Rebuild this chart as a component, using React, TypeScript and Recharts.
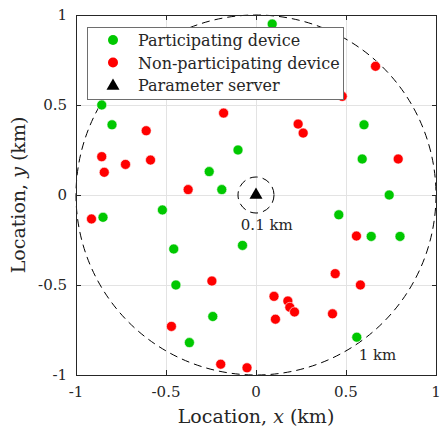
import React from "react";
import {
  ScatterChart,
  Scatter,
  XAxis,
  YAxis,
  ReferenceDot,
} from "recharts";

// device locations (km)
const participatingX = [
  -0.857, -0.8, -0.26, -0.1, -0.19, 0.09, 0.6, 0.59, 0.74, 0.46,
  0.64, 0.8, 0.56, -0.85, -0.52, -0.457, -0.075, -0.445, -0.24, -0.37,
];
const participatingY = [
  0.5, 0.39, 0.13, 0.25, 0.03, 0.95, 0.39, 0.2, 0.0, -0.11,
  -0.23, -0.23, -0.79, -0.124, -0.083, -0.3, -0.28, -0.5, -0.675, -0.82,
];
const nonParticipatingX = [
  -0.18, -0.61, -0.857, -0.843, -0.725, -0.586, -0.377, 0.664, 0.479, 0.234,
  0.262, 0.79, -0.914, -0.245, -0.47, -0.196, -0.05, 0.558, 0.44, 0.58,
  0.1, 0.177, 0.188, 0.214, 0.108, 0.425,
];
const nonParticipatingY = [
  0.455, 0.357, 0.213, 0.126, 0.17, 0.194, 0.03, 0.715, 0.548, 0.394,
  0.344, 0.2, -0.133, -0.478, -0.73, -0.94, -0.96, -0.228, -0.437, -0.5,
  -0.563, -0.589, -0.624, -0.65, -0.69, -0.66,
];
const serverX = [0];
const serverY = [0];

const axisTicks = [-1, -0.5, 0, 0.5, 1];
const tickLabels = ["-1", "-0.5", "0", "0.5", "1"];
const gridLines = [-0.5, 0, 0.5];
const circleRadii = [1, 0.1];
const circleLabels = ["1 km", "0.1 km"];
const circleLabelX = [0.675, 0.06];
const circleLabelY = [-0.889, -0.167];

const legendNames = ["Participating device", "Non-participating device", "Parameter server"];
const legendColors = ["#00c800", "#ff0000", "#000000"];
const legendMarkers = ["circle", "circle", "triangle"];

const FONT = "'DejaVu Serif', serif";
const GREEN = legendColors[0];
const RED = legendColors[1];
const FRAME = "#262626";
const GRID = "#e3e3e3";

const W = 442;
const H = 429;
const M_TOP = 15;
const M_RIGHT = 6;
const Y_W = 76;
const PLOT_W = 360;
const X_H = H - M_TOP - PLOT_W;
const PX_PER_KM = PLOT_W / 2;
const TICK_LEN = 5;

// plot-box helpers for the frame/grid layers (same box as the chart's plot area)
const px = (v: number) => Math.round(Y_W + ((v + 1) / 2) * PLOT_W);
const py = (v: number) => Math.round(M_TOP + ((1 - v) / 2) * PLOT_W);

const toPoints = (xs: number[], ys: number[]) =>
  xs.map((x, i) => ({ x, y: ys[i] }));

const participating = toPoints(participatingX, participatingY);
const nonParticipating = toPoints(nonParticipatingX, nonParticipatingY);
const server = toPoints(serverX, serverY);

const XTick = (props: any) => {
  const { x, y, payload } = props;
  const idx = axisTicks.indexOf(payload.value);
  return (
    <text
      x={x}
      y={y + 22}
      textAnchor="middle"
      fontFamily={FONT}
      fontSize={15}
      fill="#262626"
    >
      {tickLabels[idx]}
    </text>
  );
};

const YTick = (props: any) => {
  const { x, y, payload } = props;
  const idx = axisTicks.indexOf(payload.value);
  return (
    <text
      x={x - 9}
      y={y + 5}
      textAnchor="end"
      fontFamily={FONT}
      fontSize={15}
      fill="#262626"
    >
      {tickLabels[idx]}
    </text>
  );
};

const Dot = (props: any) => {
  const { cx, cy, fill } = props;
  return <circle cx={cx} cy={cy} r={5} fill={fill} stroke="#fff" strokeWidth={0.6} />;
};

const Triangle = (props: any) => {
  const { cx, cy } = props;
  const s = 13;
  const h = (s * Math.sqrt(3)) / 2;
  return (
    <polygon
      points={`${cx},${cy - (2 * h) / 3} ${cx - s / 2},${cy + h / 3} ${cx + s / 2},${cy + h / 3}`}
      fill="#000"
    />
  );
};

// thin filled bars instead of stroked lines, so they land on whole pixels
function GridLayer() {
  const top = py(1);
  const left = px(-1);
  return (
    <svg width={W} height={H} style={{ position: "absolute", left: 0, top: 0 }}>
      {gridLines.map((g) => (
        <rect key={`gx-${g}`} x={px(g)} y={top} width={1} height={PLOT_W} fill={GRID} />
      ))}
      {gridLines.map((g) => (
        <rect key={`gy-${g}`} x={left} y={py(g)} width={PLOT_W} height={1} fill={GRID} />
      ))}
    </svg>
  );
}

function FrameLayer() {
  const top = py(1);
  const bottom = py(-1);
  const left = px(-1);
  const right = px(1);
  return (
    <svg
      width={W}
      height={H}
      style={{ position: "absolute", left: 0, top: 0, pointerEvents: "none" }}
    >
      <rect x={left} y={top} width={PLOT_W + 1} height={1} fill={FRAME} />
      <rect x={left} y={bottom} width={PLOT_W + 1} height={1} fill={FRAME} />
      <rect x={left} y={top} width={1} height={PLOT_W + 1} fill={FRAME} />
      <rect x={right} y={top} width={1} height={PLOT_W + 1} fill={FRAME} />
      {axisTicks.map((t) => (
        <g key={`t-${t}`}>
          <rect x={px(t)} y={bottom - TICK_LEN} width={1} height={TICK_LEN} fill={FRAME} />
          <rect x={px(t)} y={top} width={1} height={TICK_LEN} fill={FRAME} />
          <rect x={left} y={py(t)} width={TICK_LEN} height={1} fill={FRAME} />
          <rect x={right - TICK_LEN + 1} y={py(t)} width={TICK_LEN} height={1} fill={FRAME} />
        </g>
      ))}
    </svg>
  );
}

function LegendBox() {
  return (
    <svg
      width={257}
      height={73}
      style={{ position: "absolute", left: 87, top: 27, display: "block" }}
    >
      <rect x={0.5} y={0.5} width={256} height={72} fill="#fff" stroke="#6e6e6e" />
      {legendNames.map((name, i) => {
        const cy = 13 + i * 22.5;
        return (
          <g key={name}>
            {legendMarkers[i] === "triangle" ? (
              <Triangle cx={26} cy={cy + 1} />
            ) : (
              <circle cx={26} cy={cy} r={5} fill={legendColors[i]} />
            )}
            <text x={51} y={cy + 6} fontFamily={FONT} fontSize={16} fill="#262626">
              {name}
            </text>
          </g>
        );
      })}
    </svg>
  );
}

export default function App() {
  return (
    <div style={{ position: "absolute", left: 0, top: 0, width: W, height: H, background: "#fff" }}>
      <GridLayer />
      <div style={{ position: "absolute", left: 0, top: 0 }}>
        <ScatterChart
          width={W}
          height={H}
          margin={{ top: M_TOP, right: M_RIGHT, bottom: 0, left: 0 }}
        >
          <XAxis
            type="number"
            dataKey="x"
            domain={[-1, 1]}
            ticks={axisTicks}
            allowDataOverflow
            height={X_H}
            axisLine={false}
            tickLine={false}
            tickSize={0}
            tickMargin={0}
            tick={<XTick />}
          />
          <YAxis
            type="number"
            dataKey="y"
            domain={[-1, 1]}
            ticks={axisTicks}
            allowDataOverflow
            width={Y_W}
            axisLine={false}
            tickLine={false}
            tickSize={0}
            tickMargin={0}
            tick={<YTick />}
          />
          {circleRadii.map((r) => (
            <ReferenceDot
              key={`circle-${r}`}
              x={0}
              y={0}
              shape={(p: any) => (
                <circle
                  cx={p.cx}
                  cy={p.cy}
                  r={r * PX_PER_KM}
                  fill="none"
                  stroke="#000"
                  strokeWidth={1}
                  strokeDasharray="8 5"
                />
              )}
            />
          ))}
          {circleLabels.map((label, i) => (
            <ReferenceDot
              key={label}
              x={circleLabelX[i]}
              y={circleLabelY[i]}
              shape={(p: any) => (
                <text
                  x={p.cx}
                  y={p.cy + 5}
                  textAnchor="middle"
                  fontFamily={FONT}
                  fontSize={15}
                  fill="#262626"
                >
                  {label}
                </text>
              )}
            />
          ))}
          <Scatter
            name="Participating device"
            data={participating}
            fill={GREEN}
            shape={<Dot />}
            isAnimationActive={false}
          />
          <Scatter
            name="Non-participating device"
            data={nonParticipating}
            fill={RED}
            shape={<Dot />}
            isAnimationActive={false}
          />
          <Scatter
            name="Parameter server"
            data={server}
            fill="#000"
            shape={<Triangle />}
            isAnimationActive={false}
          />
        </ScatterChart>
      </div>
      <FrameLayer />
      <LegendBox />
      <div
        style={{
          position: "absolute",
          left: Y_W,
          width: PLOT_W,
          top: 405,
          textAlign: "center",
          fontFamily: FONT,
          fontSize: 19,
          color: "#262626",
          whiteSpace: "nowrap",
        }}
      >
        Location, <i>x</i> (km)
      </div>
      <div
        style={{
          position: "absolute",
          left: 18,
          top: M_TOP + PLOT_W / 2,
          transform: "translate(-50%, -50%) rotate(-90deg)",
          fontFamily: FONT,
          fontSize: 19,
          color: "#262626",
          whiteSpace: "nowrap",
        }}
      >
        Location, <i>y</i> (km)
      </div>
    </div>
  );
}
